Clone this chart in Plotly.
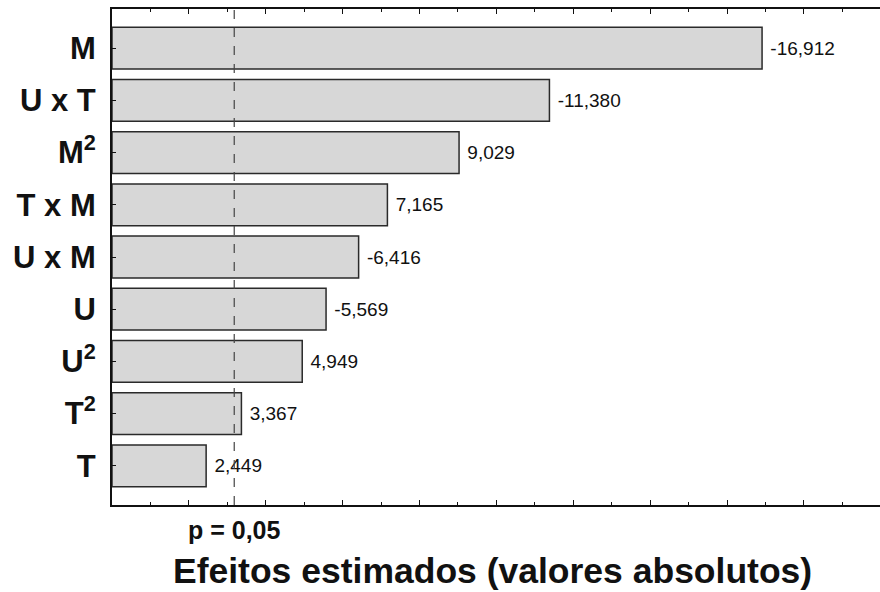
import plotly.graph_objects as go

# Data
factors = ["M", "U x T", "M<sup>2</sup>", "T x M", "U x M", "U", "U<sup>2</sup>", "T<sup>2</sup>", "T"]
effects = [-16.912, -11.380, 9.029, 7.165, -6.416, -5.569, 4.949, 3.367, 2.449]
abs_effects = [abs(v) for v in effects]
p_limit = 3.18
p_label = "p = 0,05"
x_title = "Efeitos estimados (valores absolutos)"

FONT = "Liberation Sans, Arial, Helvetica, sans-serif"

fig = go.Figure()
fig.add_trace(go.Bar(
    y=factors,
    x=abs_effects,
    orientation="h",
    width=0.8,
    marker=dict(color="#d7d7d7", line=dict(color="#2a2a2a", width=1.5)),
    customdata=effects,
    texttemplate=" %{customdata:.3f}",
    textposition="outside",
    constraintext="none",
    cliponaxis=False,
    textfont=dict(family=FONT, size=19, color="#111111"),
    hoverinfo="skip",
))

fig.add_shape(type="line", xref="x", yref="paper", x0=p_limit, x1=p_limit, y0=0, y1=1,
              line=dict(color="#444444", width=1.2, dash="dash"))

fig.add_annotation(text=p_label, xref="x", yref="paper", x=p_limit, y=-0.05,
                   yanchor="middle", xanchor="center", showarrow=False,
                   font=dict(family=FONT, size=25, color="#111111", weight="bold"))
fig.add_annotation(text=x_title, xref="paper", yref="paper", x=0.495, y=-0.133,
                   yanchor="middle", xanchor="center", showarrow=False,
                   font=dict(family=FONT, size=35.5, color="#111111", weight="bold"))

fig.update_layout(
    width=880, height=592,
    margin=dict(l=112, r=0, t=9, b=87),
    paper_bgcolor="white", plot_bgcolor="white",
    separators=",.",
    showlegend=False,
    bargap=0.2,
)
fig.update_xaxes(range=[0, 19.98], showticklabels=False, showgrid=False, zeroline=False,
                 showline=True, linecolor="#111111", linewidth=2, mirror="ticks",
                 ticks="inside", dtick=2, tick0=0, ticklen=5, tickcolor="#111111",
                 minor=dict(ticks="inside", dtick=1, ticklen=3, tickcolor="#111111"))
fig.update_yaxes(range=[8.75, -0.75], showgrid=False, zeroline=False,
                 showline=True, linecolor="#111111", linewidth=2, mirror=True,
                 ticks="inside", ticklen=4, tickcolor="#111111",
                 tickfont=dict(family=FONT, size=31, color="#111111", weight="bold"),
                 ticklabelstandoff=8, automargin=False)

fig.write_html("out.html", config={"displayModeBar": False},
               post_script="document.body.style.margin='0px';")
